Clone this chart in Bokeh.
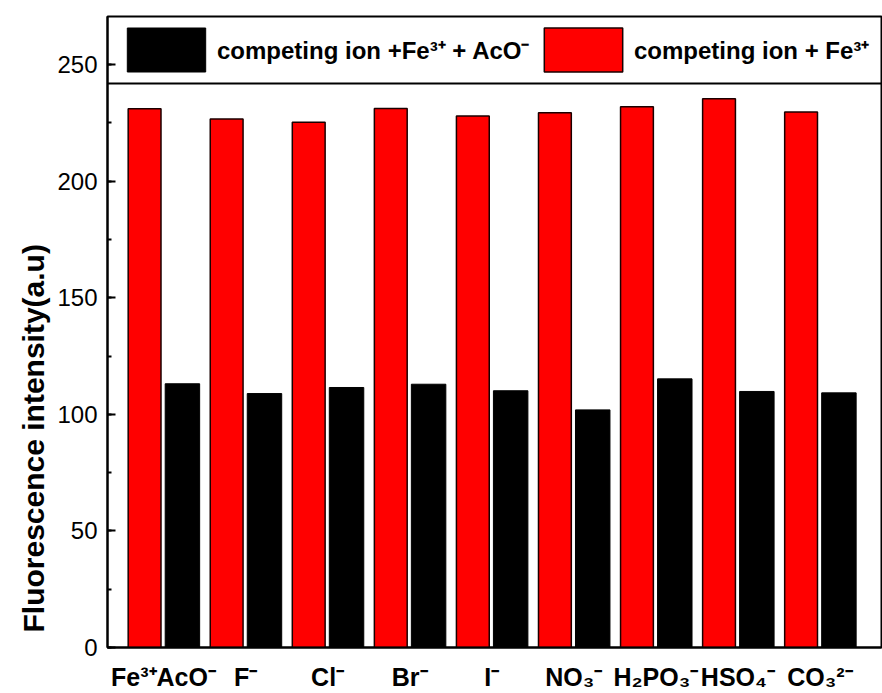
from bokeh.plotting import figure
from bokeh.models import (Range1d, FixedTicker, SingleIntervalTicker, Legend, LegendItem,
                          Span, Title, ColumnDataSource)
from bokeh.transform import dodge
from bokeh.embed import file_html
from bokeh.resources import INLINE

# ---- data ----
categories = ["Fe³⁺AcO⁻", "F⁻", "Cl⁻", "Br⁻", "I⁻", "NO₃⁻", "H₂PO₃⁻", "HSO₄⁻", "CO₃²⁻"]
positions = [1, 2, 3, 4, 5, 6, 7, 8, 9]
ion_fe = [231.0, 226.6, 225.3, 231.2, 227.9, 229.3, 231.9, 235.3, 229.6]          # competing ion + Fe3+
ion_fe_aco = [113.1, 108.9, 111.5, 112.9, 110.1, 101.9, 115.2, 109.8, 109.2]      # competing ion + Fe3+ + AcO-
y_ticks_interval = 50

src = ColumnDataSource(dict(x=positions, fe=ion_fe, feaco=ion_fe_aco))

FONT = "Liberation Sans"

p = figure(width=882, height=693, output_backend="svg", toolbar_location=None,
           title=None,
           x_range=Range1d(0.318, 9.75), y_range=Range1d(0, 270.6),
           min_border_left=107, min_border_right=1, min_border_top=16, min_border_bottom=46,
           background_fill_color="white", border_fill_color="white")

p.xgrid.visible = False
p.ygrid.visible = False
p.outline_line_color = "black"
p.outline_line_width = 2
p.outline_line_alpha = 1

r_red = p.vbar(x=dodge("x", -0.23, range=p.x_range), top="fe", width=0.40, source=src,
               fill_color="#ff0000", line_color="#1a0000", line_width=1.5)
r_black = p.vbar(x=dodge("x", 0.231, range=p.x_range), top="feaco", width=0.42, source=src,
                 fill_color="black", line_color="black", line_width=1)

# x axis
xa = p.xaxis[0]
xa.ticker = FixedTicker(ticks=positions)
xa.major_label_overrides = {pos: lab for pos, lab in zip(positions, categories)}
xa.major_tick_line_color = None
xa.minor_tick_line_color = None
xa.axis_line_width = 2
xa.major_label_text_font = FONT
xa.major_label_text_font_size = "25px"
xa.major_label_text_font_style = "bold"
xa.major_label_text_color = "black"
xa.major_label_standoff = 9

# y axis
ya = p.yaxis[0]
ya.ticker = SingleIntervalTicker(interval=y_ticks_interval, num_minor_ticks=2)
ya.axis_line_width = 2
ya.major_tick_in = 8
ya.major_tick_out = 0
ya.minor_tick_in = 4
ya.minor_tick_out = 0
ya.major_tick_line_width = 2
ya.minor_tick_line_width = 2
ya.major_label_text_font = FONT
ya.major_label_text_font_size = "24px"
ya.major_label_text_color = "black"
ya.major_label_standoff = 10

ytitle = Title(text="Fluorescence intensity(a.u)", align="left", offset=15,
               text_font=FONT, text_font_size="30px", text_font_style="bold",
               text_color="black", standoff=10)
p.add_layout(ytitle, "left")

# legend separator line
p.add_layout(Span(location=241.9, dimension="width", line_color="black", line_width=2))

legend = Legend(items=[LegendItem(label="competing ion +Fe³⁺ + AcO⁻", renderers=[r_black]),
                       LegendItem(label="competing ion + Fe³⁺", renderers=[r_red])],
                orientation="horizontal", location=(10, 570), padding=0, margin=0,
                spacing=4, glyph_width=98, glyph_height=55, label_standoff=2,
                label_width=313,
                label_text_font=FONT, label_text_font_size="24px", label_text_font_style="bold",
                label_text_color="black",
                border_line_color=None, background_fill_alpha=0)
p.add_layout(legend)

open("out.html", "w").write(file_html(p, INLINE))
